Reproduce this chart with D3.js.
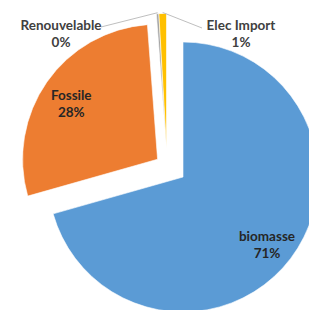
<!DOCTYPE html>
<html>
<head>
<meta charset="utf-8">
<script src="https://cdn.jsdelivr.net/npm/d3@7"></script>
<style>
  body { margin: 0; background: #fff; }
  svg { display: block; }
  .lbl { font-family: Lato, "Open Sans", sans-serif; font-weight: bold; font-size: 13.5px; }
</style>
</head>
<body>
<div class="chart"></div>
<script>
// data
var categories = ["biomasse", "Fossile", "Renouvelable", "Elec Import"];
var values = [70.6, 28.2, 0.3, 0.9];
var percentLabels = ["71%", "28%", "0%", "1%"];

var svgWidth = 309;
var svgHeight = 310;

var colors = ["#5B9BD5", "#ED7D31", "#A5A5A5", "#FFC000"];
// explosion: distance out from centre, and direction (deg, clockwise from 12h; null = slice bisector)
var explodeDist = [0, 31, 33, 33];
var explodeDir = [null, null, 330, 330];

var cx = 183, cy = 177, radius = 135;

var svg = d3.select(".chart")
    .append("svg")
    .attr("width", svgWidth)
    .attr("height", svgHeight);

var g = svg.append("g")
    .attr("transform", `translate(${cx}, ${cy})`);

var data = categories.map(function(c, i) {
    return { name: c, value: values[i], pct: percentLabels[i], i: i };
});

var pie = d3.pie()
    .sort(null)
    .value(d => d.value);

var arcs = pie(data);

var arc = d3.arc()
    .innerRadius(0)
    .outerRadius(radius);

var labelArc = d3.arc()
    .innerRadius(radius * 0.78)
    .outerRadius(radius * 0.78);

function offset(d) {
    var a = explodeDir[d.data.i] == null ? (d.startAngle + d.endAngle) / 2 : explodeDir[d.data.i] * Math.PI / 180;
    var r = explodeDist[d.data.i];
    return [Math.sin(a) * r, -Math.cos(a) * r];
}

var slices = g.selectAll("g.slice")
    .data(arcs)
    .enter()
    .append("g")
    .attr("class", "slice")
    .attr("transform", d => `translate(${offset(d)[0]}, ${offset(d)[1]})`);

slices.append("path")
    .attr("d", arc)
    .attr("fill", (d, i) => colors[i])
    .attr("stroke", "#fff")
    .attr("stroke-width", 0.6);

// labels inside the big slices
var inside = arcs.filter(d => d.data.value > 5);
inside.forEach(function(d) {
    var o = offset(d);
    var c = labelArc.centroid(d);
    var t = g.append("text")
        .attr("class", "lbl")
        .attr("text-anchor", "middle")
        .attr("fill", "#262626")
        .attr("x", c[0] + o[0])
        .attr("y", c[1] + o[1]);
    t.append("tspan").attr("x", c[0] + o[0]).attr("dy", "0.05em").text(d.data.name);
    t.append("tspan").attr("x", c[0] + o[0]).attr("dy", "1.27em").text(d.data.pct);
});

// outside labels for the small slices, with leader lines
var outsidePos = { "Renouvelable": [-122, -147], "Elec Import": [58, -147] };
var lineEnd = { "Renouvelable": [-82, -150], "Elec Import": [19, -149] };

arcs.filter(d => d.data.value <= 5).forEach(function(d) {
    var o = offset(d);
    var mid = (d.startAngle + d.endAngle) / 2;
    var edge = [Math.sin(mid) * (radius + 1) + o[0], -Math.cos(mid) * (radius + 1) + o[1]];
    var end = lineEnd[d.data.name];
    g.append("line")
        .attr("x1", edge[0]).attr("y1", edge[1])
        .attr("x2", end[0]).attr("y2", end[1])
        .attr("stroke", "#BFBFBF")
        .attr("stroke-width", 1);

    var p = outsidePos[d.data.name];
    var t = g.append("text")
        .attr("class", "lbl")
        .attr("text-anchor", "middle")
        .attr("fill", "#404040")
        .attr("x", p[0])
        .attr("y", p[1]);
    t.append("tspan").attr("x", p[0]).attr("dy", 0).text(d.data.name);
    t.append("tspan").attr("x", p[0]).attr("dy", "1.27em").text(d.data.pct);
});
</script>
</body>
</html>
